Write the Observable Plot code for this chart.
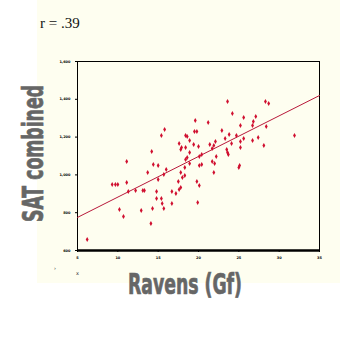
<!DOCTYPE html>
<html><head><meta charset="utf-8">
<script src="https://cdn.jsdelivr.net/npm/d3@7"></script>
<script src="https://cdn.jsdelivr.net/npm/@observablehq/plot@0.6"></script>
<style>
html,body{margin:0;padding:0;background:#fff;width:340px;height:340px;overflow:hidden;}
#bg{position:absolute;left:37px;top:0;width:303px;height:283px;background:#fefef0;}
#chart{position:absolute;left:0;top:0;}
#over{position:absolute;left:0;top:0;}
</style></head><body>
<div id="bg"></div>
<div id="chart"></div>
<svg id="over" width="340" height="340">
  <text x="40" y="28" font-family="'Liberation Serif','DejaVu Serif',serif" font-size="15" fill="#111">r = .39</text>
  <text transform="translate(43,222) rotate(-90)" font-family="'Liberation Sans Narrow','DejaVu Sans Condensed',sans-serif" font-weight="bold" font-size="28" fill="#666" stroke="#666" stroke-width="0.7" textLength="137" lengthAdjust="spacingAndGlyphs">SAT combined</text>
  <text x="128" y="294" font-family="'Liberation Sans Narrow','DejaVu Sans Condensed',sans-serif" font-weight="bold" font-size="28" fill="#666" stroke="#666" stroke-width="0.7" textLength="114" lengthAdjust="spacingAndGlyphs">Ravens (Gf)</text>
  <text x="76" y="275" font-family="DejaVu Sans" font-size="5" fill="#333">x</text>
  <text x="54" y="270" font-family="DejaVu Sans" font-size="5" fill="#333">›</text>
</svg>
<script>
const xTicks = [5, 10, 15, 20, 25, 30, 35];
const yTicks = [600, 800, 1000, 1200, 1400, 1600];
const ravens = [15.8,15.4,14.2,11.1,14.4,15.0,16.0,18.4,18.6,17.6,18.9,17.9,18.4,17.8,18.9,18.6,18.4,18.3,18.9,
  23.6,28.3,28.7,24.2,25.6,27.1,19.6,21.2,26.8,26.7,28.4,25.2,22.9,19.5,19.8,23.8,24.7,25.6,23.3,25.2,26.7,27.4,22.1,31.9,
  19.4,20.0,21.4,21.9,24.1,28.1,25.2,21.7,23.5,23.6,23.7,20.4,20.1,22.2,21.7,22.0,20.4,20.1,25.1,25.0,
  17.8,18.3,18.0,21.9,17.5,19.8,20.1,17.8,17.6,16.7,17.2,19.9,16.7,13.7,15.7,15.0,
  9.3,9.7,10.0,11.1,11.3,12.2,13.1,13.3,14.8,14.8,15.4,15.5,10.2,12.9,14.3,15.7,10.7,14.1,6.2];
const sat = [1240,1208,1124,1071,1055,1050,1029,1208,1203,1166,1182,1145,1145,1134,1119,1092,1081,1039,1060,
  1388,1388,1378,1325,1304,1309,1288,1277,1283,1261,1256,1261,1235,1230,1230,1214,1208,1193,1193,1177,1182,1198,1177,1208,
  1161,1150,1161,1156,1166,1156,1145,1140,1134,1119,1108,1108,1097,1097,1071,1060,1055,1050,1050,1039,
  1013,997,986,1013,965,965,944,933,923,912,902,854,849,1013,1002,976,
  949,949,949,960,912,917,917,917,912,875,875,849,817,812,822,822,780,743,658];
const fitX = [5, 35];
const fitY = [775, 1420];

const data = ravens.map((x, i) => ({x, y: sat[i]}));
const fit = fitX.map((x, i) => ({x, y: fitY[i]}));

const chart = Plot.plot({
  width: 340, height: 340,
  marginLeft: 77, marginRight: 21, marginTop: 61, marginBottom: 90,
  style: {background: "transparent", fontSize: "3.5px", fontWeight: "bold", fontFamily: "DejaVu Sans", color: "#000"},
  x: {domain: [5, 35], ticks: xTicks, tickSize: 2, tickPadding: 4, label: null},
  y: {domain: [600, 1600], ticks: yTicks, tickSize: 2, tickPadding: 5, label: null},
  marks: [
    Plot.frame({stroke: "#000", strokeWidth: 1}),
    Plot.ruleY([yTicks[0]], {stroke: "#000", strokeWidth: 2.5}),
    Plot.line(fit, {x: "x", y: "y", stroke: "#b8183a", strokeWidth: 1}),
    Plot.dot(data, {x: "x", y: "y", r: 1.5, symbol: "diamond", fill: "#d01030", stroke: null})
  ]
});
document.getElementById("chart").appendChild(chart);
</script>
</body></html>
